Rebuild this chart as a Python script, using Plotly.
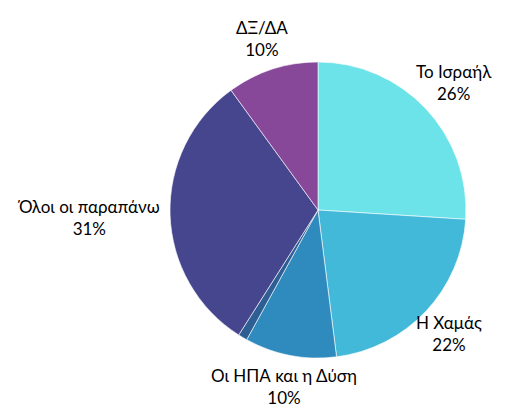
import math
import plotly.graph_objects as go

labels = ["Το Ισραήλ", "Η Χαμάς", "Οι ΗΠΑ και η Δύση", "Άλλο", "Όλοι οι παραπάνω", "ΔΞ/ΔΑ"]
values = [26, 22, 10, 1, 31, 10]
show_label = [True, True, True, False, True, True]
colors = ["#6BE3E9", "#42B9D9", "#2F8BBE", "#2D5E94", "#46468F", "#88489A"]

W, H = 526, 420
CX, CY, R = 318, 210, 148
FONT = dict(family="Lato, Liberation Sans, Arial, sans-serif", size=17, color="#000000")

fig = go.Figure(go.Pie(
    labels=labels, values=values, sort=False, direction="clockwise", rotation=0,
    marker=dict(colors=colors, line=dict(color="rgba(255,255,255,0.6)", width=1)),
    textinfo="none", hoverinfo="label+percent", showlegend=False,
    domain=dict(x=[(CX - R) / W, (CX + R) / W], y=[(H - CY - R) / H, (H - CY + R) / H]),
))

total = sum(values)
cum = 0
annotations = []
for lab, v, show in zip(labels, values, show_label):
    mid = (cum + v / 2) / total * 2 * math.pi
    cum += v
    if not show:
        continue
    pct = f"{round(v / total * 100)}%"
    hw = max(len(lab), len(pct)) * 4.6
    s, c = math.sin(mid), math.cos(mid)
    rc = max(180, R + 8 + abs(hw * s))
    X = CX + rc * s
    Y = CY - rc * c
    annotations.append(dict(
        x=X / W, y=1 - Y / H, xref="paper", yref="paper",
        text=f"{lab}<br>{pct}", showarrow=False, font=FONT,
        xanchor="center", yanchor="middle", align="center",
    ))

fig.update_layout(
    width=W, height=H, margin=dict(l=0, r=0, t=0, b=0),
    paper_bgcolor="white", plot_bgcolor="white",
    annotations=annotations,
)
fig.write_html("out.html")
